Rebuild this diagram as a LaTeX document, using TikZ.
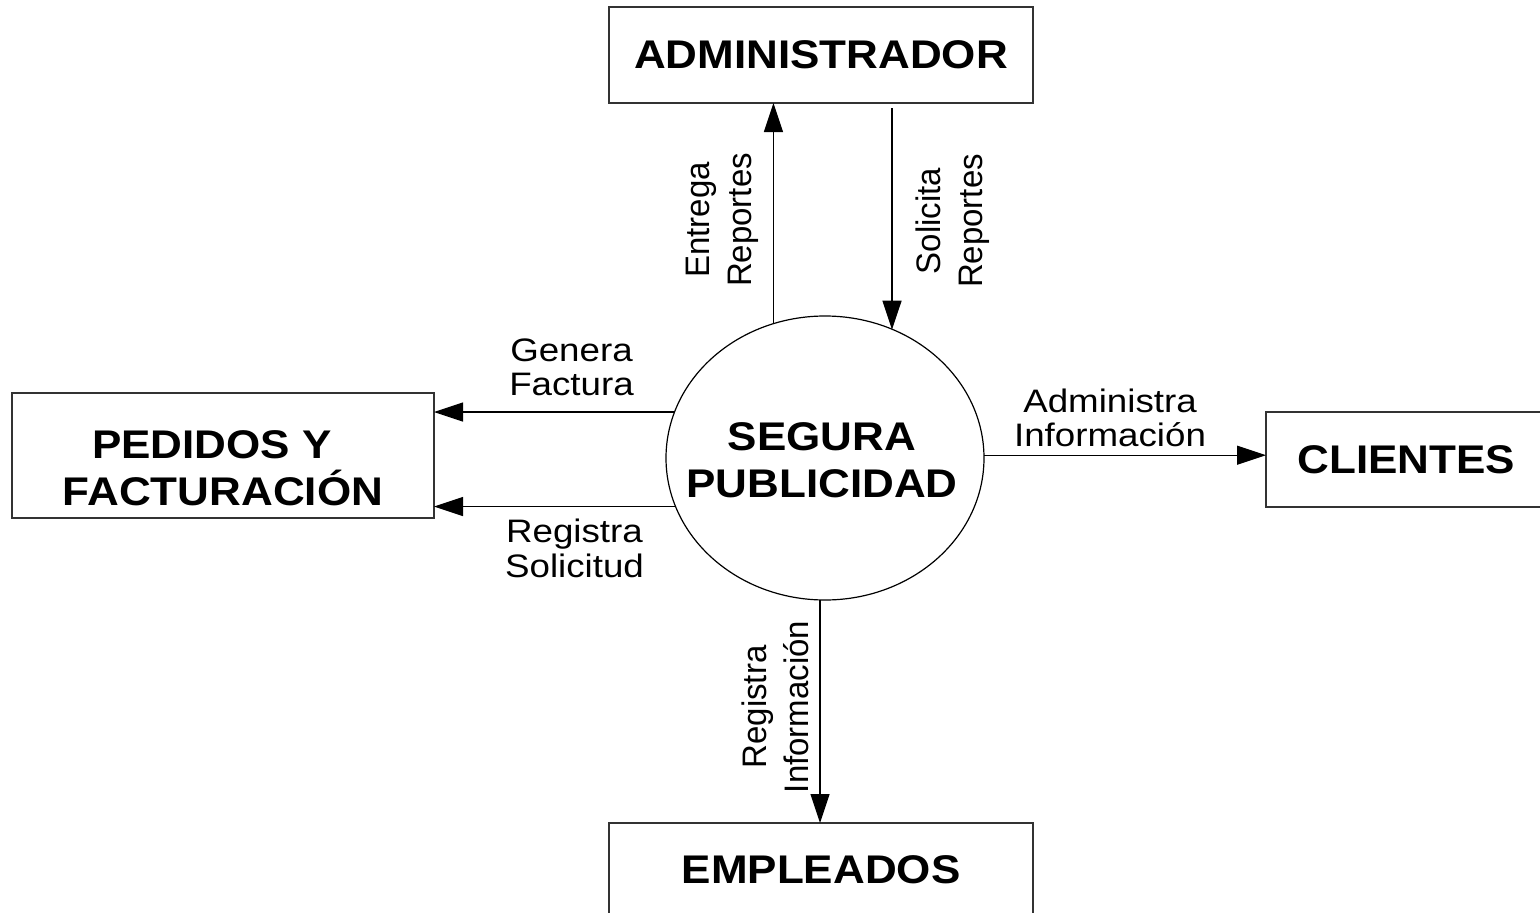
\documentclass[tikz,border=0pt]{standalone}
\usepackage{fontspec}
\setmainfont{Liberation Sans}
\newfontfamily\labfont[FakeStretch=1.13]{Liberation Sans}
\newfontfamily\boxfont[FakeStretch=1.1]{Liberation Sans}
\newfontfamily\vlabfont[FakeStretch=0.97]{Liberation Sans}
\usetikzlibrary{arrows.meta,shapes.geometric}
\begin{document}
\begin{tikzpicture}[x=1pt,y=-1pt,
  ext/.style={draw=black!80, line width=1.3pt, rectangle, inner sep=0pt, outer sep=0pt,
    font=\boxfont\bfseries\fontsize{40pt}{47pt}\selectfont, align=center},
  proc/.style={draw, line width=1.2pt, ellipse, inner sep=0pt, outer sep=0pt,
    minimum width=318pt, minimum height=284pt},
  proctext/.style={font=\boxfont\bfseries\fontsize{40pt}{47pt}\selectfont, align=center, inner sep=0pt},
  flow/.style={line width=1.2pt, -{Triangle[length=29pt,width=19pt]}},
  lbl/.style={font=\labfont\fontsize{32.5pt}{34.5pt}\selectfont, align=center, inner sep=0pt},
  vlbl/.style={font=\vlabfont\fontsize{34pt}{42pt}\selectfont, align=center, inner sep=0pt, rotate=90}]
\useasboundingbox (0,0) rectangle (1540,913);

% external entities
\node[ext, minimum width=424pt, minimum height=96pt] (adm) at (821,55) {ADMINISTRADOR};
\node[ext, minimum width=422pt, minimum height=125pt] (ped) at (223,455.5)
  {\rule{0pt}{54pt}PEDIDOS Y\hspace*{22pt}\\FACTURACIÓN};
\node[ext, minimum width=281pt, minimum height=95pt] (cli) at (1406.5,459.5) {CLIENTES};
\node[ext, minimum width=424pt, minimum height=93pt] (emp) at (821,869.5) {EMPLEADOS};

% process
\node[proc] (seg) at (825,458) {};
\node[proctext] (segt) at (822,460.4) {SEGURA\\PUBLICIDAD};

% flows
\coordinate (solstart) at (892,108);
\draw[flow] (seg.111.6) -- (seg.111.6 |- adm.south);
\draw[flow] (solstart) -- (solstart |- seg.62.5);
\draw[flow] (seg.163) -- (seg.163 -| ped.east);
\draw[flow] (seg.198.2) -- (seg.198.2 -| ped.east);
\draw[flow] (seg.1.1) -- (seg.1.1 -| cli.west);
\draw[flow] (seg.268.8) -- (seg.268.8 |- emp.north);

% labels
\node[lbl] (lgf) at (571.5,367.4) {Genera\\Factura};
\node[lbl] (lrs) at (574.5,548.3) {Registra\\Solicitud};
\node[lbl] (lai) at (1110,418) {Administra\\Información};
\node[vlbl] (ler) at (722.4,220) {Entrega\\Reportes};
\node[vlbl] (lsr) at (952.2,221) {Solicita\\Reportes};
\node[vlbl] (lri) at (774.9,707) {Registra\\Información};
\end{tikzpicture}
\end{document}
